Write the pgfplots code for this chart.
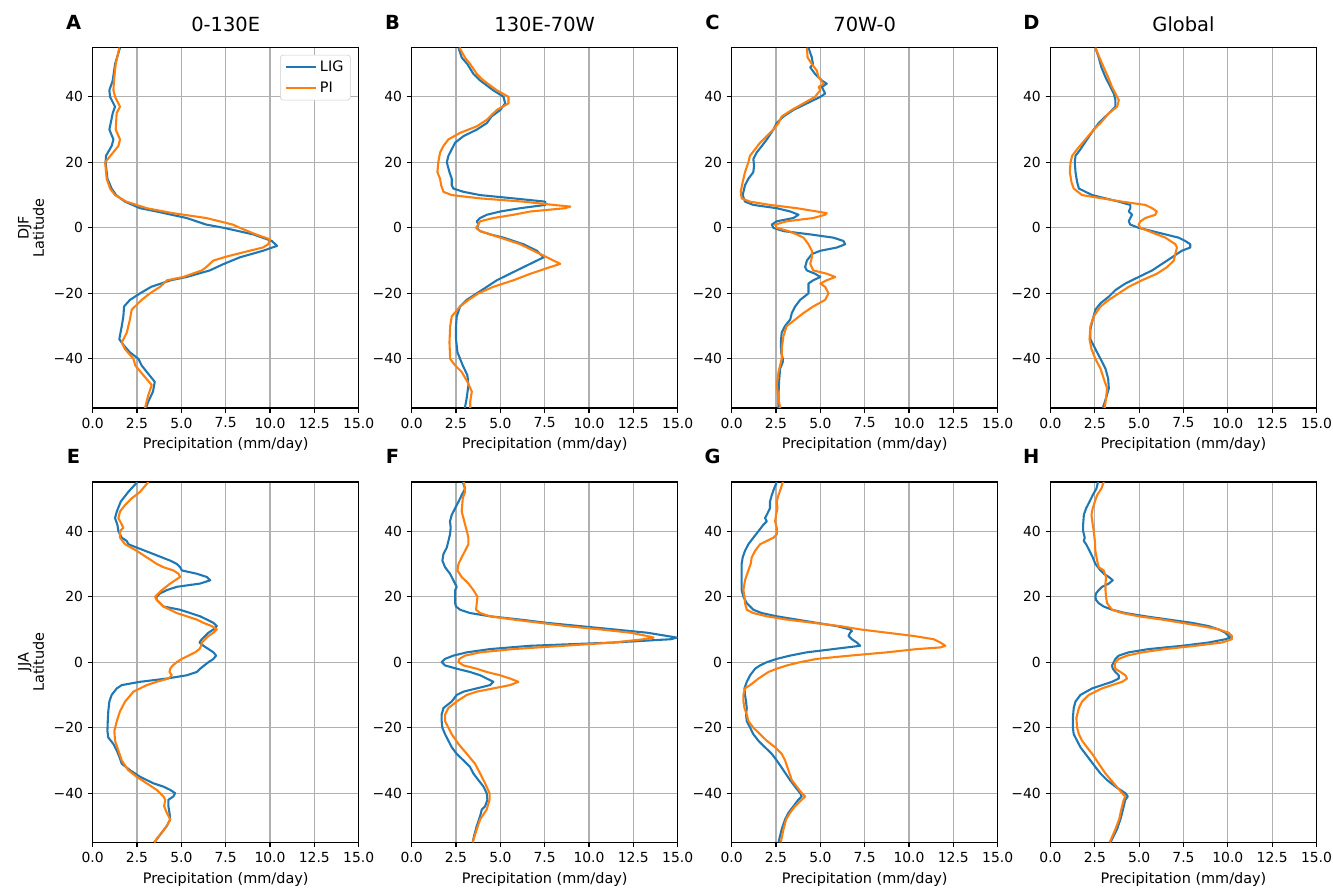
\documentclass[border=0pt]{standalone}
\usepackage{fontspec}
\setmainfont{DejaVu Sans}
\usepackage{pgfplots}
\pgfplotsset{compat=1.18}

\definecolor{ligblue}{HTML}{1F77B4}
\definecolor{piorange}{HTML}{FF7F0E}
\definecolor{gridgray}{HTML}{B0B0B0}

\pgfplotsset{
  panel/.style={
    width=191.5pt, height=259.4pt, scale only axis, anchor=south west,
    xmin=0, xmax=15, ymin=-55, ymax=55,
    xtick={0,2.5,5,7.5,10,12.5,15},
    xticklabels={0.0,2.5,5.0,7.5,10.0,12.5,15.0},
    ytick={-40,-20,0,20,40},
    yticklabels={−40,−20,0,20,40},
    tick pos=left,
    grid=major, grid style={gridgray, line width=0.8pt},
    axis line style={line width=0.8pt},
    tick align=outside, major tick length=3.5pt,
    tick style={line width=0.8pt, black},
    tick label style={font=\fontsize{10}{12}\selectfont},
    label style={font=\fontsize{10.4}{11}\selectfont},
    title style={font=\fontsize{14}{16}\selectfont, at={(0.5,1)}, anchor=base, yshift=5.5pt},
    xlabel={Precipitation (mm/day)},
    every axis plot/.append style={line width=1.5pt, line join=round},
  },
  lig/.style={ligblue},
  pi/.style={piorange},
}
\tikzset{letter/.style={font=\bfseries\fontsize{14}{16}\selectfont}}

\begin{document}
\begin{tikzpicture}
\useasboundingbox (0,0) rectangle (959.76pt,640.08pt);

% ---------- DJF ----------
\begin{axis}[panel, name=A, at={(66.74pt,346.32pt)}, title={0-130E},
  ylabel={DJF\\Latitude}, ylabel style={align=center},
  legend style={at={(0.97,0.98)}, anchor=north east, draw=gray!40,
    rounded corners=2pt, font=\fontsize{10.4}{12}\selectfont, row sep=2pt},
  legend cell align=left,
  legend image code/.code={\draw[#1] (0pt,0pt) -- (22pt,0pt);}]
\addplot[lig] coordinates {(3.0,-55) (3.14,-53) (3.4,-50) (3.5,-47) (3.05,-44) (2.76,-42) (2.58,-40) (2.1,-38) (1.77,-36) (1.5,-34)
 (1.64,-30) (1.73,-27) (1.77,-24) (2.1,-22) (2.67,-20) (3.3,-18) (4.4,-16) (5.3,-15) (6.6,-13) (7.4,-11) (8.3,-9)
 (9.6,-7) (10.4,-5.5) (10.1,-4) (9.06,-2) (7.4,0) (6.4,1) (5.3,3) (3.6,5) (2.67,6) (1.82,8) (1.32,10) (1.07,12)
 (0.83,15) (0.73,20) (0.75,22) (1.07,25) (1.17,27) (0.94,30) (1.13,35) (1.26,37) (0.98,40) (0.94,42) (1.13,45) (1.26,50) (1.54,55)};
\addplot[pi] coordinates {(2.95,-55) (3.14,-51) (3.33,-48) (2.86,-45) (2.4,-42) (2.3,-40) (1.82,-37) (1.64,-35) (1.92,-32) (2.1,-28)
 (2.2,-25) (2.76,-22) (3.23,-20) (3.8,-18) (4.2,-16) (5.1,-15) (6.15,-13) (6.4,-12) (6.8,-10) (7.4,-9) (8.1,-8)
 (9.6,-6) (9.9,-5) (10.0,-3.5) (9.2,-2) (8.3,0) (7.9,1) (6.4,3) (4.5,4.5) (3.05,6) (1.9,8) (1.26,10) (0.98,12)
 (0.79,15) (0.7,20) (1.0,22) (1.45,25) (1.54,27) (1.3,30) (1.35,35) (1.54,37) (1.26,40) (1.17,42) (1.2,45) (1.3,50) (1.5,55)};
\addlegendentry{LIG}
\addlegendentry{PI}
\end{axis}

\begin{axis}[panel, name=B, at={(296.42pt,346.32pt)}, title={130E-70W}]
\addplot[lig] coordinates {(3.0,-55) (3.1,-52) (3.2,-48) (3.14,-45) (2.88,-42) (2.58,-38) (2.5,-34) (2.5,-30) (2.54,-27) (2.73,-24)
 (3.1,-22) (3.67,-20) (4.24,-18) (4.8,-16) (5.55,-14) (6.3,-12) (7.06,-10) (7.44,-9) (7.06,-7) (6.3,-5) (5.18,-3)
 (4.43,-2) (3.86,-1) (3.67,0) (3.77,1) (3.67,2) (3.86,3) (4.24,4) (5.0,5) (6.12,6) (7.53,7) (7.53,8) (5.74,9)
 (3.86,10) (2.92,11) (2.35,12) (2.26,13) (2.26,15) (2.13,17) (1.98,20) (2.07,22) (2.26,24) (2.45,26) (2.92,28)
 (3.67,30) (4.24,32) (4.5,34) (5.0,36) (5.27,38) (5.18,40) (4.6,42) (3.86,45) (3.48,47) (3.14,50) (2.82,52) (2.64,55)};
\addplot[pi] coordinates {(3.3,-55) (3.3,-53) (3.39,-50) (3.14,-47) (2.82,-44) (2.45,-42) (2.17,-40) (2.13,-35) (2.17,-30) (2.26,-27)
 (2.73,-24) (3.2,-22) (3.77,-20) (4.6,-18) (5.74,-16) (6.7,-14) (7.8,-12) (8.38,-11) (8.0,-10) (7.63,-9) (6.87,-7)
 (6.12,-5) (5.0,-3) (3.86,-1) (3.63,0) (3.86,2) (4.6,3) (5.74,4) (6.7,5) (8.66,6) (8.95,6.5) (8.0,7) (6.3,8)
 (3.86,9) (2.26,10) (1.79,11) (1.66,13) (1.6,15) (1.45,17) (1.5,20) (1.6,23) (1.79,25) (2.07,27) (2.73,29)
 (3.67,31) (4.24,33) (4.8,36) (5.46,38) (5.46,40) (4.8,42) (4.05,45) (3.67,47) (3.3,50) (3.0,52) (2.7,55)};
\end{axis}

\begin{axis}[panel, name=C, at={(526.82pt,346.32pt)}, title={70W-0}]
\addplot[lig] coordinates {(2.64,-55) (2.64,-51) (2.67,-47) (2.73,-43) (2.88,-41) (2.88,-40) (2.79,-38) (2.77,-35) (2.82,-32) (3.0,-30)
 (3.3,-28) (3.39,-26) (3.58,-24) (3.86,-22) (4.33,-20) (4.33,-17) (4.6,-16) (5.0,-15) (4.7,-14) (4.24,-13) (4.14,-12)
 (4.24,-10) (4.52,-8) (5.0,-7) (5.93,-6) (6.4,-5) (6.3,-4) (5.74,-3) (4.43,-2) (2.92,-1) (2.35,0) (2.26,1) (2.54,2)
 (3.48,3) (3.77,4) (3.3,5) (2.54,6) (1.22,7) (0.75,8) (0.62,10) (0.75,13) (0.94,15) (1.22,17) (1.26,19) (1.22,21)
 (1.41,23) (1.7,25) (1.98,27) (2.35,30) (2.54,32) (2.92,34) (3.48,36) (4.24,38) (5.0,40) (5.27,41) (5.18,42)
 (5.08,43) (5.36,44) (5.08,45) (4.7,47) (4.43,49) (4.58,50) (4.52,52) (4.33,55)};
\addplot[pi] coordinates {(2.73,-55) (2.64,-52) (2.54,-48) (2.64,-44) (2.82,-40) (2.82,-37) (2.92,-33) (3.1,-30) (3.58,-28) (4.05,-26)
 (4.6,-24) (5.27,-22) (5.46,-20) (5.27,-18) (5.0,-17) (5.36,-16) (5.84,-15) (5.36,-14) (4.6,-13) (4.43,-11) (4.52,-9)
 (4.52,-7) (4.33,-5) (4.05,-3) (3.67,-2) (3.2,-1) (2.54,0) (2.45,1) (3.1,2) (4.6,3) (5.27,4) (5.36,4.5) (4.8,5)
 (3.67,6) (2.17,7) (1.03,8) (0.56,9) (0.51,11) (0.62,14) (0.75,17) (0.94,20) (1.03,22) (1.32,24) (1.6,26) (1.98,28)
 (2.35,30) (2.64,32) (2.82,34) (3.39,36) (4.05,38) (4.7,40) (4.84,41) (5.0,42) (4.9,43) (5.18,44) (4.9,46) (4.8,48)
 (4.52,50) (4.28,52) (4.24,55)};
\end{axis}

\begin{axis}[panel, name=D, at={(756.36pt,346.32pt)}, title={Global}]
\addplot[lig] coordinates {(2.95,-55) (3.13,-52) (3.29,-49) (3.25,-46) (3.1,-43) (2.82,-40) (2.53,-37) (2.25,-34) (2.25,-31) (2.38,-28)
 (2.53,-25) (2.82,-23) (3.29,-21) (3.66,-19) (4.22,-17) (4.97,-15) (5.73,-13) (6.29,-11) (6.85,-9) (7.4,-7) (7.88,-6)
 (7.88,-5) (7.6,-4) (7.23,-3) (6.48,-2) (5.73,-1) (4.97,0) (4.5,1) (4.41,2) (4.5,3) (4.6,4) (4.41,5) (4.5,6) (4.5,7)
 (3.85,8) (3.1,9) (2.35,10) (1.6,12) (1.5,14) (1.41,17) (1.37,20) (1.41,22) (1.69,24) (2.06,27) (2.44,30) (2.72,32)
 (3.29,35) (3.66,37) (3.66,39) (3.57,41) (3.38,43) (3.1,46) (2.87,49) (2.72,52) (2.53,55)};
\addplot[pi] coordinates {(3.06,-55) (3.13,-52) (3.19,-49) (3.0,-46) (2.82,-43) (2.53,-40) (2.31,-37) (2.2,-34) (2.25,-30) (2.44,-27)
 (2.82,-24) (3.29,-22) (3.85,-20) (4.41,-18) (5.16,-16) (6.0,-14) (6.57,-12) (6.95,-10) (7.04,-8) (7.13,-6) (7.04,-5)
 (6.48,-3) (6.0,-2) (5.54,-1) (5.07,0) (4.97,1) (5.07,2) (5.35,3) (5.91,4) (6.0,5) (5.73,6) (5.35,7) (4.04,8) (2.91,9)
 (1.78,10) (1.31,12) (1.18,14) (1.09,17) (1.13,20) (1.22,22) (1.5,24) (1.97,27) (2.44,30) (2.82,32) (3.29,35)
 (3.76,37) (3.85,39) (3.66,41) (3.47,43) (3.25,46) (3.0,49) (2.76,52) (2.53,55)};
\end{axis}

% ---------- JJA ----------
\begin{axis}[panel, name=E, at={(66.74pt,33.62pt)},
  ylabel={JJA\\Latitude}, ylabel style={align=center}]
\addplot[lig] coordinates {(3.48,-55) (3.9,-52) (4.18,-50) (4.37,-48) (4.33,-46) (4.27,-44) (4.27,-42) (4.55,-41) (4.65,-40) (4.37,-39)
 (3.99,-38) (3.43,-37) (2.67,-35) (2.11,-33) (1.64,-31) (1.51,-29) (1.36,-27) (1.17,-25) (0.88,-23) (0.83,-21)
 (0.85,-18) (0.88,-15) (0.94,-12) (1.07,-10) (1.36,-8) (1.64,-7) (2.67,-6) (4.18,-5) (5.31,-4) (5.87,-3) (6.06,-2)
 (6.29,-1) (6.53,0) (6.81,1) (6.96,2) (6.81,3) (6.53,4) (6.25,5) (6.02,6) (6.15,7) (6.34,8) (6.53,9) (6.81,10)
 (7.0,11) (6.81,12) (6.44,13) (6.06,14) (5.5,15) (4.93,16) (3.99,17) (3.8,18) (3.61,19) (3.61,20) (3.8,21) (4.18,22)
 (4.74,23) (6.06,24) (6.63,25) (6.44,26) (5.87,27) (5.03,28) (4.93,29) (4.74,30) (4.37,31) (3.43,33) (2.48,35)
 (2.01,36) (1.92,37) (1.64,38) (1.45,40) (1.39,42) (1.26,44) (1.36,46) (1.58,49) (2.01,52) (2.52,55)};
\addplot[pi] coordinates {(3.46,-55) (3.9,-52) (4.18,-50) (4.37,-48) (4.18,-46) (4.03,-44) (4.09,-42) (3.99,-41) (3.61,-39) (3.05,-37)
 (2.48,-35) (2.01,-33) (1.64,-30) (1.45,-27) (1.26,-24) (1.22,-21) (1.36,-18) (1.54,-15) (1.83,-12) (2.3,-9)
 (3.05,-7) (3.61,-6) (4.27,-5) (4.46,-4) (4.33,-3) (4.37,-2) (4.52,-1) (4.74,0) (5.03,1) (5.4,2) (5.78,3) (6.02,4)
 (6.12,5) (6.15,6) (6.34,7) (6.53,8) (6.81,9) (7.0,10) (6.72,11) (6.25,12) (5.87,13) (5.31,14) (4.74,15) (3.99,17)
 (3.61,19) (3.52,20) (3.9,22) (4.37,24) (4.65,25) (4.93,26) (4.84,27) (4.55,28) (3.99,29) (3.61,30) (3.05,32)
 (2.48,34) (1.83,36) (1.54,38) (1.54,40) (1.73,41) (1.64,42) (1.45,44) (1.54,46) (1.83,48) (2.2,50) (2.67,52) (3.14,55)};
\end{axis}

\begin{axis}[panel, name=F, at={(296.42pt,33.62pt)}]
\addplot[lig] coordinates {(3.44,-55) (3.52,-53) (3.67,-50) (3.86,-47) (3.95,-45) (4.14,-44) (4.27,-42) (4.23,-40) (4.05,-38) (3.76,-36)
 (3.48,-34) (3.29,-32) (2.92,-30) (2.54,-28) (2.26,-26) (2.07,-24) (1.88,-22) (1.73,-20) (1.69,-18) (1.69,-16)
 (1.79,-14) (2.26,-12) (2.54,-10) (2.92,-9) (3.67,-8) (4.42,-7) (4.61,-6) (4.23,-5) (3.86,-4) (3.29,-3) (2.54,-2)
 (1.88,-1) (1.69,0) (1.88,1) (2.35,2) (3.11,3) (4.42,4) (6.68,5) (11.39,6) (14.6,7) (14.96,7.5) (14.4,8) (13.27,9)
 (11.39,10) (9.5,11) (7.62,12) (6.12,13) (4.42,14) (3.29,15) (2.73,16) (2.5,17) (2.45,18) (2.45,20) (2.45,22)
 (2.54,23) (2.35,25) (2.16,27) (1.88,29) (1.73,31) (1.79,33) (1.98,35) (2.07,37) (2.16,39) (2.2,41) (2.16,43)
 (2.26,45) (2.45,47) (2.64,49) (2.82,51) (3.01,53) (2.88,55)};
\addplot[pi] coordinates {(3.44,-55) (3.67,-51) (3.86,-48) (4.23,-45) (4.39,-42) (4.39,-40) (4.14,-37) (3.86,-34) (3.57,-31) (3.11,-28)
 (2.64,-25) (2.26,-22) (2.07,-20) (1.88,-18) (1.88,-16) (2.07,-14) (2.54,-12) (3.11,-10) (3.67,-9) (4.61,-8) (5.55,-7)
 (6.02,-6) (5.55,-5) (4.99,-4) (4.23,-3) (3.67,-2) (2.92,-1) (2.64,0) (2.69,1) (3.01,2) (3.86,3) (5.74,4) (8.56,5)
 (11.39,6) (13.08,7) (13.65,7.5) (13.27,8) (12.33,9) (10.63,10) (8.75,11) (7.25,12) (5.74,13) (4.42,14) (3.86,15)
 (3.63,16) (3.67,18) (3.71,20) (3.48,22) (3.2,24) (2.82,26) (2.58,28) (2.64,30) (2.82,32) (3.01,34) (3.2,36)
 (3.2,38) (3.11,40) (3.01,42) (2.82,46) (2.88,50) (3.01,52) (2.95,55)};
\end{axis}

\begin{axis}[panel, name=G, at={(526.82pt,33.62pt)}]
\addplot[lig] coordinates {(2.64,-55) (2.82,-51) (3.01,-48) (3.2,-46) (3.48,-44) (3.76,-42) (3.95,-41) (3.86,-40) (3.57,-38) (3.29,-36)
 (2.92,-33) (2.54,-30) (2.26,-28) (1.88,-26) (1.51,-24) (1.22,-22) (1.04,-20) (0.85,-18) (0.81,-16) (0.85,-14)
 (0.81,-12) (0.75,-10) (0.72,-8) (0.85,-6) (1.04,-4) (1.32,-2) (1.6,-1) (1.98,0) (2.54,1) (3.29,2) (4.23,3) (5.74,4)
 (7.25,5) (7.06,6) (6.78,7) (6.59,8) (6.68,9) (6.78,9.5) (6.68,10) (5.93,11) (4.8,12) (3.67,13) (2.54,14) (1.69,15)
 (1.22,16) (0.85,18) (0.66,20) (0.56,22) (0.56,26) (0.56,30) (0.62,32) (0.75,34) (0.94,36) (1.22,38) (1.51,40)
 (1.79,42) (1.98,43) (1.88,44) (1.98,45) (2.16,47) (2.16,49) (2.26,51) (2.39,53) (2.54,55)};
\addplot[pi] coordinates {(2.77,-55) (2.92,-51) (3.07,-48) (3.29,-46) (3.57,-44) (3.95,-42) (4.14,-41) (3.95,-40) (3.67,-38) (3.39,-36)
 (3.2,-33) (3.01,-30) (2.82,-28) (2.45,-26) (1.98,-24) (1.6,-22) (1.22,-20) (0.94,-18) (0.85,-16) (0.72,-14)
 (0.66,-12) (0.66,-10) (0.75,-8) (1.04,-7) (1.51,-5) (2.07,-3) (2.54,-2) (3.11,-1) (3.86,0) (4.8,1) (6.68,2) (8.75,3)
 (10.45,4) (11.77,4.5) (12.05,5) (11.77,6) (11.39,7) (10.26,8) (8.75,9) (7.25,10) (6.12,11) (4.61,12) (3.11,13)
 (1.98,14) (1.22,15) (0.85,16) (0.75,18) (0.72,20) (0.66,22) (0.75,25) (0.94,28) (1.07,30) (1.13,32) (1.32,34)
 (1.6,36) (1.98,37) (2.35,38) (2.54,39) (2.54,41) (2.45,43) (2.5,45) (2.58,47) (2.54,49) (2.64,51) (2.77,53) (2.88,55)};
\end{axis}

\begin{axis}[panel, name=H, at={(756.36pt,33.62pt)}]
\addplot[lig] coordinates {(3.38,-55) (3.75,-51) (3.94,-48) (4.04,-46) (4.13,-44) (4.22,-42) (4.36,-41) (4.22,-40) (3.66,-38) (3.19,-36)
 (2.82,-34) (2.53,-32) (2.25,-30) (1.97,-28) (1.69,-26) (1.5,-24) (1.31,-22) (1.26,-20) (1.26,-17) (1.31,-14)
 (1.41,-12) (1.69,-10) (2.35,-8) (2.91,-7) (3.47,-6) (3.85,-5) (3.85,-4) (3.66,-3) (3.51,-2) (3.47,-1) (3.57,0)
 (3.66,1) (3.85,2) (4.41,3) (5.54,4) (7.42,5) (8.92,6) (9.86,7) (10.14,7.5) (10.04,8) (9.86,9) (9.48,10) (8.92,11)
 (7.98,12) (6.66,13) (5.35,14) (4.22,15) (3.47,16) (3.0,17) (2.72,18) (2.57,19) (2.53,20) (2.57,21) (2.72,22)
 (2.91,23) (3.29,24) (3.51,25) (3.29,26) (3.0,27) (2.82,28) (2.53,30) (2.38,32) (2.2,34) (2.01,36) (1.88,37)
 (1.93,38) (1.84,40) (1.84,42) (1.88,45) (2.01,47) (2.2,49) (2.38,51) (2.59,53) (2.68,55)};
\addplot[pi] coordinates {(3.34,-55) (3.66,-51) (3.87,-48) (3.99,-45) (4.13,-42) (4.22,-41) (4.04,-40) (3.57,-37) (3.1,-34) (2.72,-31)
 (2.35,-28) (2.06,-26) (1.78,-24) (1.6,-22) (1.5,-20) (1.46,-17) (1.6,-14) (1.78,-12) (2.16,-10) (2.91,-8) (3.47,-7)
 (4.04,-6) (4.32,-5) (4.22,-4) (3.94,-3) (3.66,-2) (3.62,-1) (3.66,0) (3.85,1) (4.32,2) (5.16,3) (6.48,4) (8.17,5)
 (9.67,6) (10.23,7) (10.23,8) (10.04,9) (9.48,10) (8.54,11) (7.42,12) (6.29,13) (4.97,14) (4.04,15) (3.47,16)
 (3.19,18) (3.13,20) (3.1,22) (3.1,24) (3.13,26) (3.0,28) (2.72,29) (2.63,31) (2.53,34) (2.5,37) (2.44,40)
 (2.38,42) (2.31,45) (2.38,47) (2.5,49) (2.63,51) (2.87,53) (3.0,55)};
\end{axis}

% panel letters
\foreach \p in {A,B,C,D,E,F,G,H}
  \node[letter] at ([xshift=-13.8pt,yshift=18.3pt]\p.north west) {\p};
\end{tikzpicture}
\end{document}
